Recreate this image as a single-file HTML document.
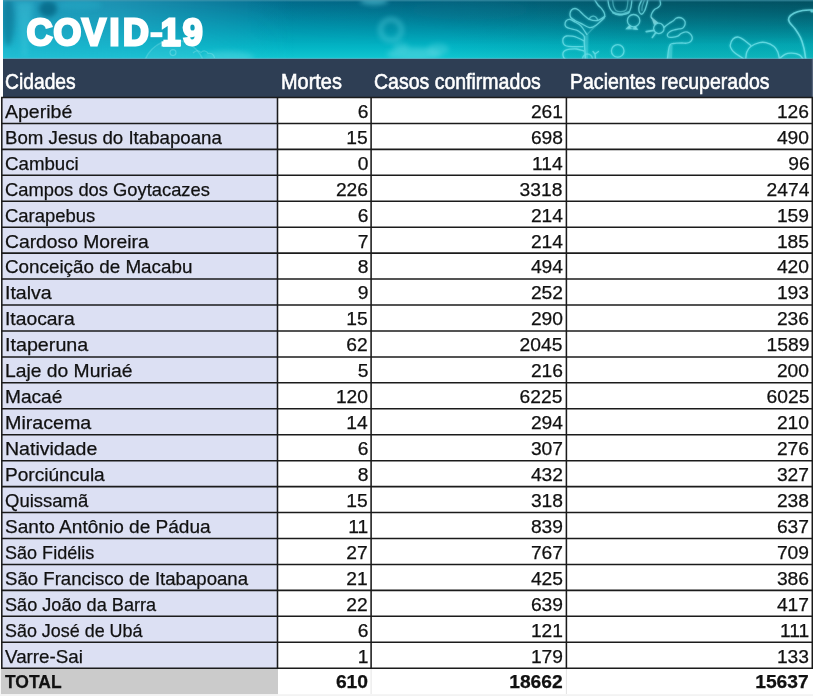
<!DOCTYPE html>
<html lang="pt-BR">
<head>
<meta charset="utf-8">
<title>COVID-19</title>
<style>
html,body{margin:0;padding:0;background:#fff;}
body{width:813px;height:696px;overflow:hidden;position:relative;font-family:"Liberation Sans",sans-serif;}
#wrap{position:absolute;left:0;top:0;width:813px;height:696px;overflow:hidden;background:#fff;}
#grid{position:absolute;left:0;top:0;}
.t{position:absolute;white-space:nowrap;color:#111;-webkit-text-stroke:0.25px #111;font-size:18.6px;line-height:20px;height:20px;}
.c{left:4.9px;transform-origin:0 50%;}
.n{text-align:right;transform-origin:100% 50%;transform:scaleX(1.035);}
.n2{right:445.1px;}
.n3{right:250.2px;}
.n4{right:3.8px;}
.b{font-weight:bold;}
.h{position:absolute;white-space:nowrap;color:#fff;font-size:22.0px;line-height:24px;height:24px;top:69.6px;transform-origin:0 50%;transform:scaleX(0.84);-webkit-text-stroke:0.6px #fff;}
#title{position:absolute;left:27.2px;top:10.4px;white-space:nowrap;color:#fff;font-weight:bold;font-size:37.5px;line-height:44px;height:44px;transform-origin:0 50%;transform:scaleX(0.955);-webkit-text-stroke:2.8px #fff;letter-spacing:1.6px;}
</style>
</head>
<body>
<div id="wrap">

<svg id="grid" width="813" height="696" viewBox="0 0 813 696">
<defs>
<linearGradient id="bg" x1="0" y1="0" x2="0" y2="1"><stop offset="0" stop-color="#026a8c"/><stop offset="0.2" stop-color="#027d9b"/><stop offset="0.5" stop-color="#0199b1"/><stop offset="0.8" stop-color="#03b5c5"/><stop offset="1" stop-color="#10c7d1"/></linearGradient>
<linearGradient id="lt" x1="0" y1="0" x2="1" y2="0"><stop offset="0" stop-color="#37b6d6" stop-opacity="0.62"/><stop offset="0.14" stop-color="#37b6d6" stop-opacity="0.5"/><stop offset="0.36" stop-color="#37b6d6" stop-opacity="0"/></linearGradient>
<linearGradient id="gr" x1="0" y1="0" x2="1" y2="0"><stop offset="0.55" stop-color="#067a72" stop-opacity="0"/><stop offset="0.8" stop-color="#067a72" stop-opacity="0.22"/><stop offset="1" stop-color="#067a72" stop-opacity="0.22"/></linearGradient>
<linearGradient id="dk" x1="0" y1="0" x2="1" y2="0"><stop offset="0.3" stop-color="#034650" stop-opacity="0"/><stop offset="0.8" stop-color="#023c46" stop-opacity="0.5"/><stop offset="1" stop-color="#023c46" stop-opacity="0.6"/></linearGradient>
<linearGradient id="fade2" x1="0" y1="0" x2="0" y2="1"><stop offset="0" stop-color="#fff" stop-opacity="1"/><stop offset="0.75" stop-color="#fff" stop-opacity="0"/></linearGradient>
<mask id="mk2"><rect x="0" y="0" width="813" height="59" fill="url(#fade2)"/></mask>
<linearGradient id="fade" x1="0" y1="0" x2="0" y2="1"><stop offset="0" stop-color="#fff" stop-opacity="1"/><stop offset="1" stop-color="#fff" stop-opacity="0.75"/></linearGradient>
<mask id="mk"><rect x="0" y="0" width="813" height="59" fill="url(#fade)"/></mask>
<filter id="b1" x="-20%" y="-20%" width="140%" height="140%"><feGaussianBlur stdDeviation="0.45"/></filter>
<filter id="b2" x="-20%" y="-20%" width="140%" height="140%"><feGaussianBlur stdDeviation="1.3"/></filter>
<filter id="b3" x="-50%" y="-50%" width="200%" height="200%"><feGaussianBlur stdDeviation="2.6"/></filter>
<filter id="b6" x="-50%" y="-50%" width="200%" height="200%"><feGaussianBlur stdDeviation="5"/></filter>
<clipPath id="bc"><rect x="3" y="0" width="810" height="58.9"/></clipPath>
</defs>
<g clip-path="url(#bc)">
<g id="bgl">
<rect x="3" y="0" width="810" height="59" fill="url(#bg)"/>
<rect x="3" y="0" width="810" height="59" fill="url(#lt)" mask="url(#mk)"/>
<rect x="3" y="0" width="810" height="59" fill="url(#gr)"/>
<rect x="3" y="0" width="810" height="59" fill="url(#dk)" mask="url(#mk2)"/>
<ellipse cx="48" cy="9" rx="9" ry="8" fill="#065f7e" opacity="0.7" filter="url(#b3)"/>
<ellipse cx="8" cy="22" rx="6" ry="24" fill="#06607f" opacity="0.45" filter="url(#b3)"/>
<path d="M17 2 L33 2 L27 56 L22 56 Z" fill="#45cfe2" opacity="0.35" filter="url(#b3)"/>
<ellipse cx="80" cy="5" rx="22" ry="5" fill="#2bb4cf" opacity="0.35" filter="url(#b3)"/>
<circle cx="174" cy="71" r="31" fill="#9df0f5" opacity="0.10"/>
<circle cx="174" cy="71" r="31" fill="none" stroke="#b5f6f8" stroke-width="1.3" opacity="0.22" filter="url(#b1)"/><circle cx="173" cy="52.6" r="3" fill="none" stroke="#b5f6f8" stroke-width="1.1" opacity="0.3" filter="url(#b1)"/><path d="M193 53 C196 50 199 50 201 52.5 C203 50 207 50.5 208 53.5 C211 52.5 214 54.5 214.5 58" fill="none" stroke="#b5f6f8" stroke-width="1.1" opacity="0.28" filter="url(#b1)"/>
<ellipse cx="228" cy="57" rx="26" ry="6" fill="#9df0f5" opacity="0.22" filter="url(#b3)"/>
</g>
<circle cx="391" cy="30" r="10.5" fill="none" stroke="#4cc9d8" stroke-width="5" opacity="0.5" filter="url(#b3)"/>
<ellipse cx="414" cy="54" rx="27" ry="6.5" fill="#6fdde6" opacity="0.42" filter="url(#b3)"/>
<ellipse cx="438" cy="49.5" rx="11" ry="6" fill="#6fdde6" opacity="0.32" filter="url(#b3)"/>
<ellipse cx="401" cy="47" rx="8" ry="5" fill="#6fdde6" opacity="0.28" filter="url(#b3)"/>
<ellipse cx="374" cy="1" rx="14" ry="4" fill="#59c6da" opacity="0.6" filter="url(#b3)"/>
<ellipse cx="470" cy="10" rx="60" ry="10" fill="#0b728b" opacity="0.25" filter="url(#b6)"/>
<g id="v1" fill="none" stroke="#78e6ee" stroke-width="1.3" stroke-linecap="round" stroke-linejoin="round" opacity="0.68" filter="url(#b1)">
<path d="M594.2 -1.0 C594.8 0.0 596.8 3.4 598.0 5.0 C599.2 6.6 600.6 7.3 601.6 8.6 C602.6 9.9 603.8 11.7 604.3 13.0 C604.8 14.3 604.7 16.0 604.8 16.6"/>
<path d="M604.8 16.4 C603.7 17.0 600.5 19.8 598.0 20.3 C595.5 20.8 591.9 20.2 589.5 19.3 C587.1 18.4 585.2 16.2 583.4 14.7 C581.6 13.1 579.9 11.0 578.5 10.0 C577.1 9.0 576.2 8.5 575.0 8.5 C573.8 8.5 572.3 9.1 571.5 10.0 C570.7 10.9 570.1 12.6 570.0 13.8 C569.9 15.1 570.0 16.4 570.8 17.5 C571.6 18.6 573.3 19.5 575.0 20.5 C576.7 21.5 578.5 22.1 580.9 23.3 C583.3 24.5 586.9 27.3 589.5 27.6 C592.1 27.9 593.9 26.7 596.4 25.0 C598.9 23.3 603.1 18.8 604.4 17.6"/>
<path d="M589.0 19.3 C589.3 18.9 590.2 17.3 591.0 16.8 C591.8 16.3 592.7 16.1 593.5 16.2 C594.3 16.3 595.3 16.6 596.0 17.2 C596.7 17.8 597.2 19.1 597.5 19.5" opacity="0.8"/>
<path d="M586.9 34.5 C585.9 33.1 582.9 28.0 580.9 25.9 C578.9 23.8 576.9 23.1 575.0 22.0 C573.1 20.9 571.2 19.6 569.7 19.4 C568.2 19.2 566.8 20.1 566.0 21.0 C565.2 21.9 565.0 23.5 565.0 24.5 C565.0 25.5 565.4 26.3 566.2 27.0 C567.0 27.7 568.3 28.0 570.0 28.5 C571.7 29.0 574.8 29.4 576.6 30.2 C578.4 30.9 579.7 31.9 581.0 33.0 C582.3 34.0 583.8 34.8 584.3 36.5 C584.8 38.2 584.2 40.4 584.3 43.0 C584.4 45.6 584.8 49.3 585.0 52.0 C585.2 54.7 585.4 57.8 585.5 59.0"/>
<path d="M604.4 18.0 C603.0 19.2 598.9 22.8 596.0 25.5 C593.1 28.2 588.5 33.0 587.0 34.5" opacity="0.4"/>
<path d="M583.8 40.8 C582.7 40.2 578.9 38.3 577.0 37.5 C575.1 36.7 574.0 36.5 572.2 36.2 C570.5 36.0 568.0 35.7 566.5 36.0 C565.0 36.3 564.1 37.2 563.5 38.0 C562.9 38.8 562.8 39.8 562.8 40.8 C562.8 41.8 563.0 43.1 563.6 44.0 C564.2 44.9 565.1 45.6 566.5 46.0 C567.9 46.4 569.5 46.5 572.2 46.6 C575.0 46.7 581.2 46.6 583.0 46.6"/>
<path d="M583.8 51.0 C582.6 50.7 578.9 49.3 576.6 49.0 C574.3 48.7 571.9 49.0 570.0 49.2 C568.1 49.4 566.5 49.7 565.3 50.3 C564.1 50.9 563.3 51.9 563.0 53.0 C562.7 54.1 563.0 55.8 563.5 57.0 C564.0 58.2 565.6 59.5 566.0 60.0"/>
<path d="M584.5 36 L588.5 35 L588 59 L584 59 Z" fill="#78e6ee" stroke="none" opacity="0.35"/>
<path d="M595.5 59 L595 54 L593 51.5 M595 54 L598.5 51.5"/>
<path d="M582.5 59 A5 5 0 0 1 592.5 59" opacity="0.8"/>
<path d="M607.8 -1.0 C608.0 0.2 608.4 4.1 609.0 6.0 C609.6 7.9 610.1 8.9 611.2 10.3 C612.3 11.7 613.7 13.5 615.5 14.2 C617.3 14.9 619.9 14.8 622.0 14.6 C624.1 14.4 626.9 14.3 628.4 13.0 C629.9 11.7 630.4 9.3 631.0 7.0 C631.6 4.7 631.8 0.3 631.9 -1.0"/>
<path d="M612.5 -1.0 C612.7 0.2 612.9 4.1 613.5 6.0 C614.1 7.9 614.8 9.6 616.0 10.5 C617.2 11.4 619.3 11.7 621.0 11.6 C622.7 11.5 624.9 11.1 626.0 10.0 C627.1 8.9 627.2 6.8 627.5 5.0 C627.8 3.2 627.9 0.0 628.0 -1.0" opacity="0.6"/>
<path d="M613.0 12.6 C613.8 12.8 616.5 13.7 618.0 14.0 C619.5 14.3 620.2 14.6 622.0 14.3 C623.8 14.0 627.8 12.4 629.0 12.0" stroke-width="2.2" opacity="0.7"/>
<path d="M642.2 -1.0 C641.8 0.0 640.1 3.4 639.5 5.0 C638.9 6.6 638.8 7.3 638.8 8.6 C638.8 9.8 639.0 11.6 639.5 12.5 C640.0 13.4 641.0 14.4 641.8 14.2 C642.6 13.9 643.7 12.5 644.5 11.0 C645.3 9.5 645.9 7.2 646.5 5.2 C647.1 3.2 647.8 0.0 648.0 -1.0"/>
<path d="M644.8 -1.0 C644.4 0.2 642.8 4.1 642.3 6.0 C641.8 7.9 642.0 9.8 642.0 10.5" opacity="0.6"/>
<path d="M659.7 -1.0 C659.8 -0.1 660.8 2.9 660.5 4.3 C660.2 5.7 659.0 6.6 658.0 7.5 C657.0 8.4 655.5 8.6 654.5 9.5 C653.5 10.4 652.6 11.8 652.0 13.0 C651.4 14.2 651.0 15.5 651.0 16.4 C651.0 17.3 651.8 18.1 652.0 18.5"/>
<path d="M651 16.5 L658.5 22.8 L654 25.2 Z" fill="#9cf0f5" stroke="none" opacity="0.85"/>
<circle cx="658.8" cy="28.4" r="5.2"/>
<path d="M654 30.3 L646.3 31.6" stroke-width="1.8"/>
<path d="M655.7 32.7 L652.3 37.5" stroke-width="1.6"/>
<path d="M663.8 27.4 L665 26.6"/>
<path d="M664.8 26.7 C665.5 26.2 667.6 24.5 669.0 23.5 C670.4 22.5 672.2 21.6 673.4 20.7 C674.6 19.8 675.1 18.8 676.0 18.3 C676.9 17.8 677.7 17.5 678.8 17.5 C679.9 17.5 681.5 17.8 682.5 18.5 C683.5 19.2 684.6 20.5 685.0 21.5 C685.4 22.5 685.2 23.5 685.0 24.5 C684.8 25.5 684.1 26.6 683.5 27.3 C682.9 28.0 682.3 28.3 681.2 28.6 C680.1 28.9 678.3 29.0 677.0 29.3 C675.7 29.6 674.6 29.8 673.4 30.2 C672.1 30.6 670.5 31.3 669.5 32.0 C668.5 32.7 667.6 33.7 667.4 34.5 C667.2 35.3 667.5 36.5 668.3 37.0 C669.1 37.5 670.4 37.4 672.0 37.3 C673.6 37.2 676.3 36.8 677.8 36.2 C679.3 35.6 679.7 34.2 681.0 33.5 C682.3 32.8 684.1 31.9 685.5 31.9 C686.9 31.8 688.4 32.4 689.5 33.2 C690.6 34.0 691.6 35.5 692.0 36.5 C692.4 37.5 692.3 38.6 692.0 39.5 C691.7 40.4 690.9 41.4 690.0 42.0 C689.1 42.6 687.7 43.0 686.4 43.2 C685.1 43.4 683.4 43.0 682.0 43.0 C680.6 43.0 679.2 43.0 677.8 43.1 C676.4 43.2 674.8 43.2 673.5 43.5 C672.2 43.8 670.8 43.7 670.0 44.8 C669.2 45.9 668.9 47.6 668.5 50.0 C668.1 52.4 667.6 57.5 667.4 59.0"/>
<path d="M670 44.8 L672.6 45.2 L672 59 L667.4 59 L668.5 50 Z" fill="#78e6ee" stroke="none" opacity="0.45"/>
<circle cx="633.6" cy="20.7" r="6.2"/>
<path d="M629.6 25.3 L625.8 29 L630.8 28.6 Z M635.2 26.3 L637.8 29.6 L633.4 28.9 Z" fill="#9cf0f5" stroke-width="0.8"/>
<path d="M627.5 28.6 L636.5 29.2" opacity="0.6"/>
<circle cx="617.7" cy="50.9" r="6.3"/>
</g>
<g id="v2" fill="none" stroke="#78e6ee" stroke-width="1.35" stroke-linecap="round" stroke-linejoin="round" opacity="0.72" filter="url(#b1)">
<path d="M750.7 45.4 C749.6 44.5 746.0 41.4 744.0 40.0 C742.0 38.6 740.3 37.3 738.5 37.1 C736.7 36.9 734.4 37.6 733.0 39.0 C731.6 40.4 730.4 43.6 730.2 45.4 C730.0 47.2 731.2 48.7 732.0 50.0 C732.8 51.3 733.7 52.0 735.2 53.2 C736.7 54.4 739.5 56.0 741.0 57.0 C742.5 58.0 743.5 58.7 744.0 59.0"/>
<path d="M745.7 59.0 C745.9 57.8 746.0 54.1 746.8 52.0 C747.6 49.9 748.6 48.1 750.7 46.5 C752.8 44.9 757.0 43.2 759.5 42.6 C762.0 42.0 763.6 42.0 766.0 42.6 C768.4 43.2 772.0 44.9 774.0 46.5 C776.0 48.1 776.9 49.9 777.8 52.0 C778.7 54.1 779.2 57.8 779.5 59.0"/>
<path d="M779.5 58.5 C780.4 57.8 783.0 55.2 785.0 54.3 C787.0 53.4 789.3 53.1 791.7 53.2 C794.1 53.3 797.5 53.8 799.4 54.8 C801.3 55.8 802.4 58.3 803.0 59.0"/>
<path d="M805.7 59.0 C805.4 57.1 804.7 51.1 803.8 47.6 C802.9 44.1 802.0 40.8 800.5 37.7 C799.0 34.6 796.9 31.4 795.0 28.8 C793.1 26.2 790.4 24.0 789.4 22.1 C788.4 20.2 788.1 19.2 788.9 17.7 C789.6 16.2 791.6 14.5 793.9 13.3 C796.2 12.1 799.9 11.1 802.7 10.5 C805.5 9.9 808.6 10.0 810.5 10.0 C812.4 10.0 813.4 10.4 814.0 10.5" stroke-width="1.6"/>
<circle cx="812" cy="11" r="1.6" fill="#78e6ee" stroke="none"/>
</g>
<use href="#v1" opacity="0.7" filter="url(#b2)"/><use href="#v2" opacity="0.7" filter="url(#b2)"/>
<rect x="3" y="57.9" width="810" height="1" fill="#8fd0e8" opacity="0.55"/>
<rect x="3" y="0" width="810" height="1.4" fill="#4a9db3" opacity="0.55"/>
</g>
<rect x="3" y="58.8" width="810" height="38.7" fill="#2e3e54"/>
<rect x="811.8" y="58.8" width="1.2" height="38.4" fill="#56657b"/>
<rect x="1.80" y="97.50" width="275.70" height="570.68" fill="#dce0f3"/>
<rect x="0.80" y="668.18" width="277.20" height="26.12" fill="#cbcbcb"/>
<rect x="0" y="694.2" width="813" height="1.8" fill="#f3f3f3"/>
<line x1="371.10" y1="668.18" x2="371.10" y2="694" stroke="#e4e4e4" stroke-width="1"/>
<line x1="566.40" y1="668.18" x2="566.40" y2="694" stroke="#e4e4e4" stroke-width="1"/>
<g stroke="#1b1b1b" stroke-width="1.55">
<line x1="1.10" y1="97.50" x2="813.00" y2="97.50"/>
<line x1="1.10" y1="123.44" x2="813.00" y2="123.44"/>
<line x1="1.10" y1="149.38" x2="813.00" y2="149.38"/>
<line x1="1.10" y1="175.32" x2="813.00" y2="175.32"/>
<line x1="1.10" y1="201.26" x2="813.00" y2="201.26"/>
<line x1="1.10" y1="227.20" x2="813.00" y2="227.20"/>
<line x1="1.10" y1="253.14" x2="813.00" y2="253.14"/>
<line x1="1.10" y1="279.08" x2="813.00" y2="279.08"/>
<line x1="1.10" y1="305.02" x2="813.00" y2="305.02"/>
<line x1="1.10" y1="330.96" x2="813.00" y2="330.96"/>
<line x1="1.10" y1="356.90" x2="813.00" y2="356.90"/>
<line x1="1.10" y1="382.84" x2="813.00" y2="382.84"/>
<line x1="1.10" y1="408.78" x2="813.00" y2="408.78"/>
<line x1="1.10" y1="434.72" x2="813.00" y2="434.72"/>
<line x1="1.10" y1="460.66" x2="813.00" y2="460.66"/>
<line x1="1.10" y1="486.60" x2="813.00" y2="486.60"/>
<line x1="1.10" y1="512.54" x2="813.00" y2="512.54"/>
<line x1="1.10" y1="538.48" x2="813.00" y2="538.48"/>
<line x1="1.10" y1="564.42" x2="813.00" y2="564.42"/>
<line x1="1.10" y1="590.36" x2="813.00" y2="590.36"/>
<line x1="1.10" y1="616.30" x2="813.00" y2="616.30"/>
<line x1="1.10" y1="642.24" x2="813.00" y2="642.24"/>
<line x1="1.10" y1="668.18" x2="813.00" y2="668.18"/>
<line x1="1.80" y1="97.50" x2="1.80" y2="668.18"/>
<line x1="277.50" y1="97.50" x2="277.50" y2="668.18"/>
<line x1="371.10" y1="97.50" x2="371.10" y2="668.18"/>
<line x1="566.40" y1="97.50" x2="566.40" y2="668.18"/>
<line x1="812.30" y1="97.50" x2="812.30" y2="668.18"/>
</g>
</svg>
<svg id="tsvg" width="813" height="60" viewBox="0 0 813 60" style="position:absolute;left:0;top:0"><text transform="scale(0.95,1)" x="28.22 56.29 86.25 115.35 129.48 158.5 169.1 192.37" y="45.3" font-family="Liberation Sans, sans-serif" font-weight="bold" font-size="37.6" fill="#fff" stroke="#fff" stroke-width="2.8">COVID-19</text><rect x="163" y="41.3" width="17" height="5.4" fill="#fff"/><clipPath id="hyc"><rect x="149.6" y="37.2" width="13.7" height="4"/></clipPath><use href="#bgl" clip-path="url(#hyc)"/></svg>
<div class="h" style="left:5.0px;transform:scaleX(0.876)">Cidades</div>
<div class="h" style="left:281.0px;transform:scaleX(0.905)">Mortes</div>
<div class="h" style="left:374.0px;transform:scaleX(0.886)">Casos confirmados</div>
<div class="h" style="left:570.3px;transform:scaleX(0.887)">Pacientes recuperados</div>
<div class="t c" style="top:101.80px;transform:scaleX(1.0492)">Aperibé</div>
<div class="t n n2" style="top:101.80px">6</div>
<div class="t n n3" style="top:101.80px">261</div>
<div class="t n n4" style="top:101.80px">126</div>
<div class="t c" style="top:127.74px;transform:scaleX(1.0037)">Bom Jesus do Itabapoana</div>
<div class="t n n2" style="top:127.74px">15</div>
<div class="t n n3" style="top:127.74px">698</div>
<div class="t n n4" style="top:127.74px">490</div>
<div class="t c" style="top:153.68px;transform:scaleX(1.0052)">Cambuci</div>
<div class="t n n2" style="top:153.68px">0</div>
<div class="t n n3" style="top:153.68px">114</div>
<div class="t n n4" style="top:153.68px">96</div>
<div class="t c" style="top:179.62px;transform:scaleX(0.9863)">Campos dos Goytacazes</div>
<div class="t n n2" style="top:179.62px">226</div>
<div class="t n n3" style="top:179.62px">3318</div>
<div class="t n n4" style="top:179.62px">2474</div>
<div class="t c" style="top:205.56px;transform:scaleX(0.9933)">Carapebus</div>
<div class="t n n2" style="top:205.56px">6</div>
<div class="t n n3" style="top:205.56px">214</div>
<div class="t n n4" style="top:205.56px">159</div>
<div class="t c" style="top:231.50px;transform:scaleX(1.0374)">Cardoso Moreira</div>
<div class="t n n2" style="top:231.50px">7</div>
<div class="t n n3" style="top:231.50px">214</div>
<div class="t n n4" style="top:231.50px">185</div>
<div class="t c" style="top:257.44px;transform:scaleX(1.0127)">Conceição de Macabu</div>
<div class="t n n2" style="top:257.44px">8</div>
<div class="t n n3" style="top:257.44px">494</div>
<div class="t n n4" style="top:257.44px">420</div>
<div class="t c" style="top:283.38px;transform:scaleX(1.0515)">Italva</div>
<div class="t n n2" style="top:283.38px">9</div>
<div class="t n n3" style="top:283.38px">252</div>
<div class="t n n4" style="top:283.38px">193</div>
<div class="t c" style="top:309.32px;transform:scaleX(1.0383)">Itaocara</div>
<div class="t n n2" style="top:309.32px">15</div>
<div class="t n n3" style="top:309.32px">290</div>
<div class="t n n4" style="top:309.32px">236</div>
<div class="t c" style="top:335.26px;transform:scaleX(1.0599)">Itaperuna</div>
<div class="t n n2" style="top:335.26px">62</div>
<div class="t n n3" style="top:335.26px">2045</div>
<div class="t n n4" style="top:335.26px">1589</div>
<div class="t c" style="top:361.20px;transform:scaleX(1.0368)">Laje do Muriaé</div>
<div class="t n n2" style="top:361.20px">5</div>
<div class="t n n3" style="top:361.20px">216</div>
<div class="t n n4" style="top:361.20px">200</div>
<div class="t c" style="top:387.14px;transform:scaleX(1.0284)">Macaé</div>
<div class="t n n2" style="top:387.14px">120</div>
<div class="t n n3" style="top:387.14px">6225</div>
<div class="t n n4" style="top:387.14px">6025</div>
<div class="t c" style="top:413.08px;transform:scaleX(1.0574)">Miracema</div>
<div class="t n n2" style="top:413.08px">14</div>
<div class="t n n3" style="top:413.08px">294</div>
<div class="t n n4" style="top:413.08px">210</div>
<div class="t c" style="top:439.02px;transform:scaleX(1.0506)">Natividade</div>
<div class="t n n2" style="top:439.02px">6</div>
<div class="t n n3" style="top:439.02px">307</div>
<div class="t n n4" style="top:439.02px">276</div>
<div class="t c" style="top:464.96px;transform:scaleX(1.0266)">Porciúncula</div>
<div class="t n n2" style="top:464.96px">8</div>
<div class="t n n3" style="top:464.96px">432</div>
<div class="t n n4" style="top:464.96px">327</div>
<div class="t c" style="top:490.90px;transform:scaleX(0.9947)">Quissamã</div>
<div class="t n n2" style="top:490.90px">15</div>
<div class="t n n3" style="top:490.90px">318</div>
<div class="t n n4" style="top:490.90px">238</div>
<div class="t c" style="top:516.84px;transform:scaleX(1.0255)">Santo Antônio de Pádua</div>
<div class="t n n2" style="top:516.84px">11</div>
<div class="t n n3" style="top:516.84px">839</div>
<div class="t n n4" style="top:516.84px">637</div>
<div class="t c" style="top:542.78px;transform:scaleX(0.9702)">São Fidélis</div>
<div class="t n n2" style="top:542.78px">27</div>
<div class="t n n3" style="top:542.78px">767</div>
<div class="t n n4" style="top:542.78px">709</div>
<div class="t c" style="top:568.72px;transform:scaleX(1.0004)">São Francisco de Itabapoana</div>
<div class="t n n2" style="top:568.72px">21</div>
<div class="t n n3" style="top:568.72px">425</div>
<div class="t n n4" style="top:568.72px">386</div>
<div class="t c" style="top:594.66px;transform:scaleX(0.9747)">São João da Barra</div>
<div class="t n n2" style="top:594.66px">22</div>
<div class="t n n3" style="top:594.66px">639</div>
<div class="t n n4" style="top:594.66px">417</div>
<div class="t c" style="top:620.60px;transform:scaleX(0.9635)">São José de Ubá</div>
<div class="t n n2" style="top:620.60px">6</div>
<div class="t n n3" style="top:620.60px">121</div>
<div class="t n n4" style="top:620.60px">111</div>
<div class="t c" style="top:646.54px;transform:scaleX(1.0108)">Varre-Sai</div>
<div class="t n n2" style="top:646.54px">1</div>
<div class="t n n3" style="top:646.54px">179</div>
<div class="t n n4" style="top:646.54px">133</div>
<div class="t c b" style="top:672.48px;transform:scaleX(0.9390)">TOTAL</div>
<div class="t n n2 b" style="top:672.48px">610</div>
<div class="t n n3 b" style="top:672.48px">18662</div>
<div class="t n n4 b" style="top:672.48px">15637</div>
</div>
</body>
</html>
